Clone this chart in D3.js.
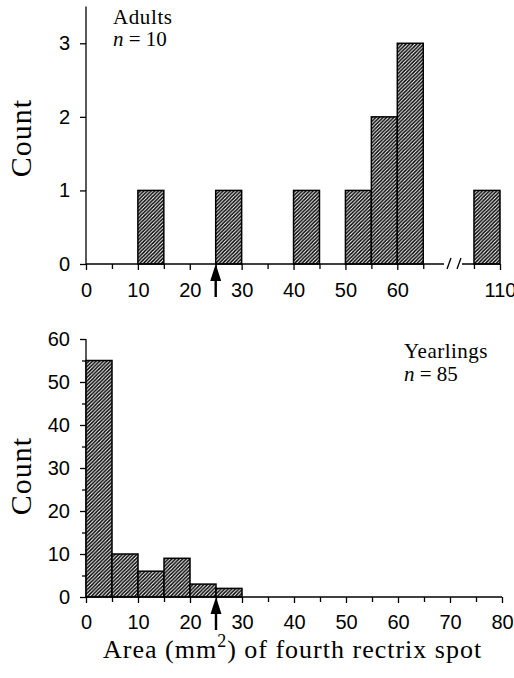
<!DOCTYPE html>
<html>
<head>
<meta charset="utf-8">
<script src="https://cdn.jsdelivr.net/npm/d3@7"></script>
<style>
  body { margin: 0; background: #fff; }
  .tick text { font-family: "Liberation Sans", Arial, sans-serif; font-size: 20px; fill: #000; }
  .serif { font-family: "Liberation Serif", "Times New Roman", serif; fill: #000; }
</style>
</head>
<body>
<div id="chart"></div>
<script>
var width = 514,
    height = 678;

// Adults: bin starts (5 mm2 wide) and counts
const adultBins = [10, 25, 40, 50, 55, 60, 105];
const adultCounts = [1, 1, 1, 1, 2, 3, 1];
const adultTicks = [0, 10, 20, 30, 40, 50, 60, 110];
const adultMinor = [5, 15, 25, 35, 45, 55, 65, 105];
const adultYTicks = [0, 1, 2, 3];

// Yearlings
const yearlingBins = [0, 5, 10, 15, 20, 25];
const yearlingCounts = [55, 10, 6, 9, 3, 2];
const yearlingTicks = [0, 10, 20, 30, 40, 50, 60, 70, 80];
const yearlingMinor = [5, 15, 25, 35, 45, 55, 65, 75];
const yearlingYTicks = [0, 10, 20, 30, 40, 50, 60];
const yearlingYMinor = [5, 15, 25, 35, 45, 55];

const binWidth = 5;
const arrowValue = 25;

var svg = d3.select("#chart")
    .append("svg")
    .attr("width", width)
    .attr("height", height);

// hatch pattern
var pat = svg.append("defs").append("pattern")
    .attr("id", "hatch")
    .attr("patternUnits", "userSpaceOnUse")
    .attr("width", 3.6)
    .attr("height", 3.6);
pat.append("rect").attr("width", 3.6).attr("height", 3.6).attr("fill", "#fff");
pat.append("path")
    .attr("d", "M-0.9,0.9 l1.8,-1.8 M0,3.6 l3.6,-3.6 M2.7,4.5 l1.8,-1.8")
    .attr("stroke", "#000")
    .attr("stroke-width", 1.45);

// scales
var xTop = d3.scaleLinear().domain([0, 69, 102.7, 110]).range([86, 444, 462, 500]),
    yTop = d3.scaleLinear().domain([0, 3.5]).range([264, 6.5]);
var xBot = d3.scaleLinear().domain([0, 80]).range([86, 502]),
    yBot = d3.scaleLinear().domain([0, 60]).range([597, 339]);

function drawBars(g, bins, counts, x, y) {
    g.selectAll(".bar")
        .data(bins.map((b, i) => ({ start: b, count: counts[i] })))
        .enter().append("rect")
        .attr("class", "bar")
        .attr("x", d => x(d.start))
        .attr("y", d => y(d.count))
        .attr("width", d => x(d.start + binWidth) - x(d.start))
        .attr("height", d => y(0) - y(d.count))
        .attr("fill", "url(#hatch)")
        .attr("stroke", "#000")
        .attr("stroke-width", 1.5);
}

function drawArrow(g, x, y) {
    var ax = x(arrowValue), ay = y(0);
    g.append("path")
        .attr("d", "M" + ax + "," + ay + " l-5.5,17 l4.3,0 l0,16 l2.4,0 l0,-16 l4.3,0 z")
        .attr("fill", "#000");
}

function styleAxis(sel) {
    sel.select(".domain").remove();
    sel.selectAll(".tick line").attr("stroke", "#000").attr("stroke-width", 1.3);
}

// ---------- Adults ----------
var gTop = svg.append("g");

// y axis line
gTop.append("line")
    .attr("x1", xTop(0)).attr("x2", xTop(0))
    .attr("y1", yTop(0)).attr("y2", yTop(3.5))
    .attr("stroke", "#000").attr("stroke-width", 1.3);

gTop.append("g")
    .attr("transform", "translate(" + xTop(0) + ",0)")
    .call(d3.axisLeft(yTop).tickValues(adultYTicks).tickSize(6).tickPadding(10).tickFormat(d3.format("d")))
    .call(styleAxis);

drawBars(gTop, adultBins, adultCounts, xTop, yTop);

// broken x axis line
gTop.append("line")
    .attr("x1", xTop(0)).attr("x2", xTop(69))
    .attr("y1", yTop(0)).attr("y2", yTop(0))
    .attr("stroke", "#000").attr("stroke-width", 1.3);
gTop.append("line")
    .attr("x1", xTop(102.7)).attr("x2", xTop(110))
    .attr("y1", yTop(0)).attr("y2", yTop(0))
    .attr("stroke", "#000").attr("stroke-width", 1.3);
[xTop(69) + 3, xTop(102.7) - 5].forEach(function(sx) {
    gTop.append("line")
        .attr("x1", sx).attr("y1", yTop(0) + 5)
        .attr("x2", sx + 4).attr("y2", yTop(0) - 6)
        .attr("stroke", "#000").attr("stroke-width", 1.3);
});

gTop.append("g")
    .attr("transform", "translate(0," + yTop(0) + ")")
    .call(d3.axisBottom(xTop).tickValues(adultTicks).tickSize(6).tickPadding(13).tickFormat(d3.format("d")))
    .call(styleAxis);
gTop.append("g")
    .attr("transform", "translate(0," + yTop(0) + ")")
    .call(d3.axisBottom(xTop).tickValues(adultMinor).tickSize(5).tickFormat(""))
    .call(styleAxis);

drawArrow(gTop, xTop, yTop);

gTop.append("text").attr("class", "serif")
    .attr("transform", "translate(31,138) rotate(-90)")
    .attr("text-anchor", "middle")
    .style("font-size", "30px").style("letter-spacing", "1px")
    .text("Count");

gTop.append("text").attr("class", "serif")
    .attr("x", 113).attr("y", 24)
    .style("font-size", "21px").style("letter-spacing", "0.6px")
    .text("Adults");
var ln = gTop.append("text").attr("class", "serif")
    .attr("x", 113).attr("y", 46)
    .style("font-size", "21px");
ln.append("tspan").style("font-style", "italic").text("n");
ln.append("tspan").text(" = 10");

// ---------- Yearlings ----------
var gBot = svg.append("g");

gBot.append("line")
    .attr("x1", xBot(0)).attr("x2", xBot(0))
    .attr("y1", yBot(0)).attr("y2", yBot(60))
    .attr("stroke", "#000").attr("stroke-width", 1.3);

gBot.append("g")
    .attr("transform", "translate(" + xBot(0) + ",0)")
    .call(d3.axisLeft(yBot).tickValues(yearlingYTicks).tickSize(6).tickPadding(10).tickFormat(d3.format("d")))
    .call(styleAxis);
gBot.append("g")
    .attr("transform", "translate(" + xBot(0) + ",0)")
    .call(d3.axisLeft(yBot).tickValues(yearlingYMinor).tickSize(4).tickFormat(""))
    .call(styleAxis);

drawBars(gBot, yearlingBins, yearlingCounts, xBot, yBot);

gBot.append("line")
    .attr("x1", xBot(0)).attr("x2", xBot(80))
    .attr("y1", yBot(0)).attr("y2", yBot(0))
    .attr("stroke", "#000").attr("stroke-width", 1.3);

gBot.append("g")
    .attr("transform", "translate(0," + yBot(0) + ")")
    .call(d3.axisBottom(xBot).tickValues(yearlingTicks).tickSize(6).tickPadding(12).tickFormat(d3.format("d")))
    .call(styleAxis);
gBot.append("g")
    .attr("transform", "translate(0," + yBot(0) + ")")
    .call(d3.axisBottom(xBot).tickValues(yearlingMinor).tickSize(5).tickFormat(""))
    .call(styleAxis);

drawArrow(gBot, xBot, yBot);

gBot.append("text").attr("class", "serif")
    .attr("transform", "translate(31,476) rotate(-90)")
    .attr("text-anchor", "middle")
    .style("font-size", "30px").style("letter-spacing", "1px")
    .text("Count");

gBot.append("text").attr("class", "serif")
    .attr("x", 404).attr("y", 358)
    .style("font-size", "21px").style("letter-spacing", "0.5px")
    .text("Yearlings");
var bn = gBot.append("text").attr("class", "serif")
    .attr("x", 404).attr("y", 381)
    .style("font-size", "21px");
bn.append("tspan").style("font-style", "italic").text("n");
bn.append("tspan").text(" = 85");

// x axis title
var xt = svg.append("text").attr("class", "serif")
    .attr("x", 103).attr("y", 658)
    .style("font-size", "26px").style("letter-spacing", "1px");
xt.append("tspan").text("Area (mm");
xt.append("tspan").attr("dy", -11).style("font-size", "18px").text("2");
xt.append("tspan").attr("dy", 11).text(") of fourth rectrix spot");
</script>
</body>
</html>
